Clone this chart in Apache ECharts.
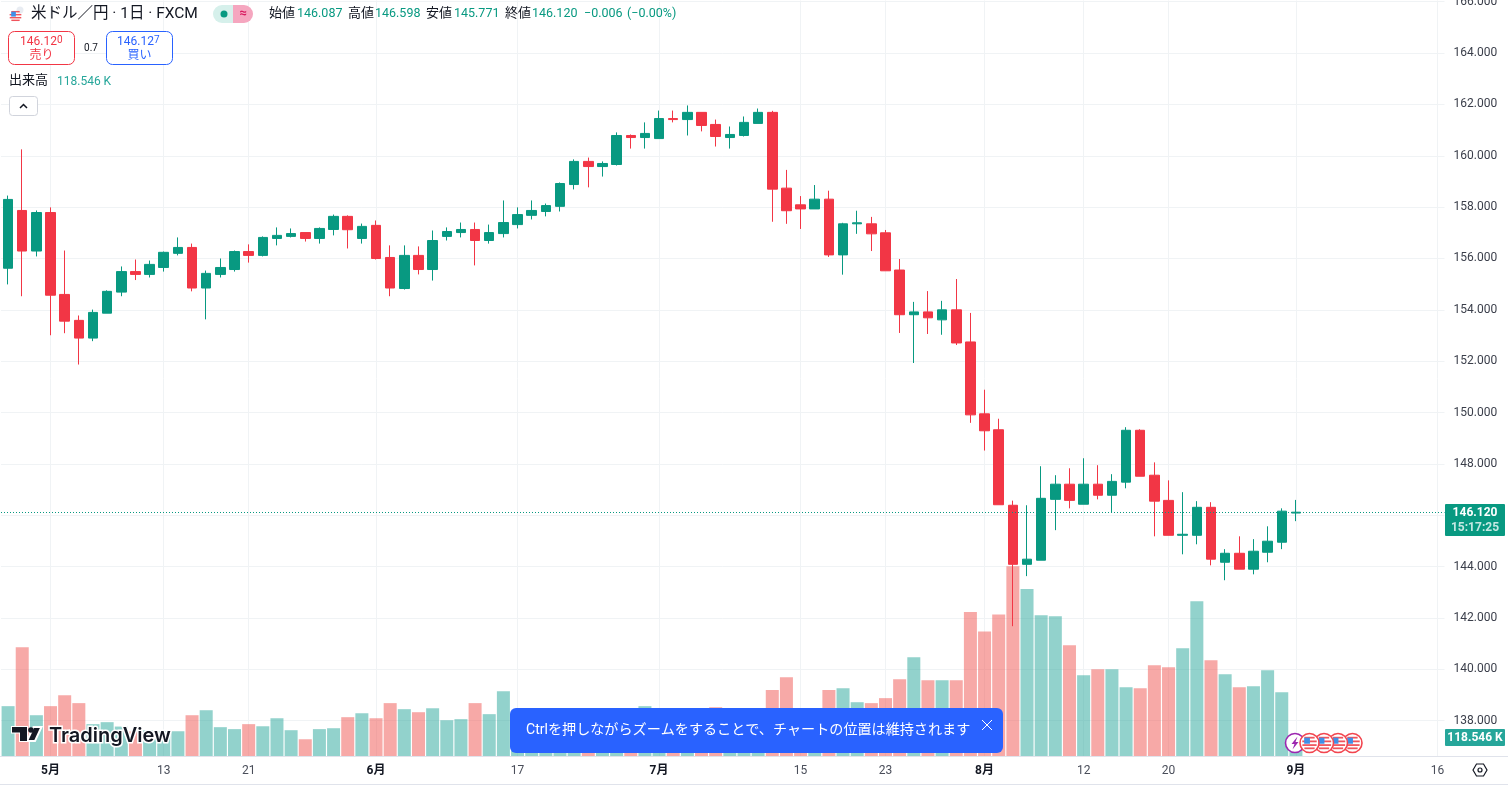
<!DOCTYPE html>
<html lang="ja">
<head>
<meta charset="utf-8">
<title>米ドル／円</title>
<script src="https://cdn.jsdelivr.net/npm/echarts@6/dist/echarts.min.js"></script>
<style>
  html, body { margin: 0; padding: 0; background: #fff; }
  #chart { width: 1508px; height: 788px; }
</style>
</head>
<body>
<div id="chart"></div>
<script>
// 日付 (営業日、最後の10本は未来の空き)
const categories = [
  '4/26','4/29','4/30','5/1','5/2','5/3','5/6','5/7','5/8','5/9','5/10','5/13','5/14','5/15','5/16','5/17','5/20','5/21','5/22','5/23','5/24','5/27','5/28','5/29','5/30','5/31',
  '6/3','6/4','6/5','6/6','6/7','6/10','6/11','6/12','6/13','6/14','6/17','6/18','6/19','6/20','6/21','6/24','6/25','6/26','6/27','6/28',
  '7/1','7/2','7/3','7/4','7/5','7/8','7/9','7/10','7/11','7/12','7/15','7/16','7/17','7/18','7/19','7/22','7/23','7/24','7/25','7/26','7/29','7/30','7/31',
  '8/1','8/2','8/5','8/6','8/7','8/8','8/9','8/12','8/13','8/14','8/15','8/16','8/19','8/20','8/21','8/22','8/23','8/26','8/27','8/28','8/29','8/30',
  '9/2','9/3','9/4','9/5','9/6','9/9','9/10','9/11','9/12','9/13','9/16'
];

// 四本値
const opens = [
  155.62,157.87,156.29,157.79,154.60,153.59,152.90,153.87,154.69,155.49,155.38,155.65,156.20,156.43,154.85,155.38,155.57,156.27,156.12,156.78,156.86,157.01,156.78,157.13,157.64,156.78,157.29,156.04,
  154.83,156.12,155.57,156.86,157.01,157.13,156.70,156.97,157.32,157.68,157.83,158.03,158.88,159.78,159.58,159.66,160.79,160.71,160.67,161.45,161.41,161.69,161.22,160.71,160.79,161.26,161.69,158.74,
  158.09,157.93,158.31,156.14,157.35,157.35,157.00,155.55,153.81,153.92,153.61,154.00,152.75,149.95,149.33,146.39,144.09,144.25,146.62,147.21,146.43,147.21,146.78,147.29,149.31,147.56,146.58,145.22,
  145.22,146.31,144.17,144.52,143.90,144.56,144.95,146.087
];
const closes = [
  158.30,156.29,157.79,154.57,153.56,152.90,153.90,154.72,155.49,155.38,155.77,156.24,156.43,154.85,155.42,155.65,156.27,156.12,156.82,156.90,156.97,156.78,157.17,157.64,157.12,157.25,156.00,154.85,
  156.12,155.57,156.70,157.05,157.13,156.70,157.01,157.40,157.71,157.87,158.06,158.92,159.78,159.58,159.70,160.79,160.71,160.87,161.45,161.41,161.69,161.18,160.75,160.83,161.30,161.69,158.70,157.86,
  157.93,158.31,156.14,157.35,157.39,156.96,155.52,153.81,153.92,153.69,154.00,152.71,149.91,149.29,146.41,144.09,144.29,146.66,147.21,146.58,147.21,146.78,147.32,149.31,147.52,146.55,145.22,145.26,
  146.31,144.29,144.52,143.90,144.60,144.99,146.16,146.12
];
const lows = [
  154.99,154.53,156.08,153.01,153.09,151.87,152.78,153.87,154.53,155.16,155.26,155.49,156.12,154.72,153.63,155.26,155.49,155.84,156.08,156.51,156.82,156.66,156.58,156.90,156.39,156.58,155.96,154.53,
  154.79,155.38,155.14,156.70,156.82,155.73,156.58,156.82,157.17,157.52,157.64,157.83,158.69,158.77,159.19,159.62,160.28,160.28,160.67,161.30,160.79,160.95,160.36,160.28,160.75,161.26,157.43,157.35,
  157.15,157.93,156.06,155.37,156.96,156.29,155.52,153.10,151.93,153.06,153.03,152.63,149.60,148.52,146.41,141.68,143.63,144.25,145.42,146.27,146.43,146.62,146.10,147.05,147.52,145.18,145.22,144.48,
  144.87,144.05,143.47,143.90,143.70,144.17,144.68,145.771
];
const highs = [
  158.45,160.25,157.87,157.99,156.31,153.78,154.01,154.76,155.69,155.96,155.92,156.27,156.82,156.58,155.53,156.00,156.31,156.55,156.86,157.21,157.17,157.01,157.21,157.71,157.68,157.36,157.48,156.51,
  156.51,156.47,157.09,157.21,157.40,157.40,157.32,158.26,157.99,158.26,158.14,158.96,159.86,159.93,159.78,160.91,160.83,161.30,161.76,161.76,161.96,161.69,161.41,161.14,161.53,161.84,161.75,159.45,
  158.43,158.86,158.64,157.39,157.86,157.62,157.11,155.98,154.31,154.73,154.35,155.20,153.88,150.89,149.76,146.57,146.39,147.91,147.56,147.83,148.22,147.95,147.60,149.43,149.35,148.06,147.36,146.90,
  146.55,146.51,144.68,145.18,145.07,145.57,146.27,146.598
];

// 出来高 (K)
const volumes = [
  333,723,273,333,405,353,214,227,198,165,172,167,167,273,306,194,181,214,200,253,174,114,181,187,260,286,253,353,
  313,293,319,240,247,353,280,432,230,210,240,260,280,250,230,270,300,333,260,240,280,290,326,240,260,300,439,524,
  290,270,439,452,359,353,386,511,657,505,505,505,956,827,939,1259,1107,935,928,736,538,577,577,458,452,604,591,716,
  1027,637,544,458,465,571,425,118.546
];

const tickIndex = [3, 11, 17, 26, 36, 46, 56, 62, 69, 76, 82, 91, 101];
const tickText = ['5月', '13', '21', '6月', '17', '7月', '15', '23', '8月', '12', '20', '9月', '16'];

const UP = '#089981';
const DOWN = '#F23645';
const VOL_UP = 'rgba(38,166,154,0.5)';
const VOL_DOWN = 'rgba(239,83,80,0.5)';
const GRID = '#f0f3f5';
const TEXT = '#131722';
const BLUE = '#2962FF';
const FONT = 'Roboto, "Noto Sans CJK JP", sans-serif';

const candleData = opens.map((o, i) => [o, closes[i], lows[i], highs[i]]);
const volumeData = volumes.map((v, i) => ({
  value: v,
  itemStyle: { color: closes[i] >= opens[i] ? VOL_UP : VOL_DOWN }
}));
const lastClose = closes[closes.length - 1];

// 小さいテキスト
function label(text, x, y, fill, size, extra) {
  return {
    type: 'text', silent: true, z: 20,
    style: Object.assign({
      text, x, y, fill,
      font: `${size}px ${FONT}`,
      verticalAlign: 'middle'
    }, extra || {})
  };
}

function roundRect(x, y, w, h, r, fill, stroke) {
  return {
    type: 'rect', silent: true, z: 19,
    shape: { x, y, width: w, height: h, r },
    style: { fill, stroke: stroke || null, lineWidth: 1 }
  };
}

// 米国旗の丸アイコン
function flagIcon(cx, cy, r, ring, z) {
  const inner = ring ? r * 0.78 : r;
  const parts = [
    { type: 'circle', silent: true, z, shape: { cx, cy, r }, style: { fill: '#fff', stroke: ring ? '#f2454f' : null, lineWidth: 1.6 } }
  ];
  // 赤い縞
  [-0.72, -0.22, 0.28, 0.72].forEach((o) => {
    const half = Math.sqrt(Math.max(0, 1 - o * o)) * inner;
    parts.push({
      type: 'rect', silent: true, z: z + 1,
      shape: { x: cx - half, y: cy + o * inner - inner * 0.12, width: half * 2, height: inner * 0.24 },
      style: { fill: '#f0545c' }
    });
  });
  parts.push({
    type: 'rect', silent: true, z: z + 2,
    shape: { x: cx - inner * 0.72, y: cy - inner * 0.72, width: inner * 0.78, height: inner * 0.82 },
    style: { fill: '#3f8fe8' }
  });
  return parts;
}

const graphics = [
  // ペイン下の線
  { type: 'line', silent: true, z: 5, shape: { x1: 0, y1: 756.5, x2: 1508, y2: 756.5 }, style: { stroke: '#e0e3eb', lineWidth: 1 } },
  { type: 'line', silent: true, z: 5, shape: { x1: 0, y1: 784.5, x2: 1508, y2: 784.5 }, style: { stroke: '#e0e3eb', lineWidth: 1 } },

  // ヘッダー
  ...flagIcon(15.5, 16, 6, false, 20),
  { type: 'circle', silent: true, z: 20, shape: { cx: 20, cy: 10, r: 3.5 }, style: { fill: '#e8ecf2' } },
  label('米ドル／円 · 1日 · FXCM', 31, 14, TEXT, 15.5),
  roundRect(213, 5, 20, 18, [9, 0, 0, 9], '#d6f0eb'),
  roundRect(233, 5, 20, 18, [0, 9, 9, 0], '#f5a6bf'),
  { type: 'circle', silent: true, z: 20, shape: { cx: 224, cy: 14, r: 3.5 }, style: { fill: UP } },
  label('≈', 243, 14, '#d81b60', 13, { textAlign: 'center', font: `bold 13px ${FONT}` }),
  label('始値', 269, 14, TEXT, 13),
  label('146.087', 297, 14, UP, 12.5),
  label('高値', 348, 14, TEXT, 13),
  label('146.598', 375, 14, UP, 12.5),
  label('安値', 426, 14, TEXT, 13),
  label('145.771', 454, 14, UP, 12.5),
  label('終値', 505, 14, TEXT, 13),
  label('146.120', 532, 14, UP, 12.5),
  label('−0.006', 584, 14, UP, 12.5),
  label('(−0.00%)', 627, 14, UP, 12.5),

  // 売り買いボタン
  roundRect(8.5, 31.5, 66, 33, 6, '#fff', DOWN),
  label('146.12', 20, 42, DOWN, 12),
  label('0', 57, 40, DOWN, 10),
  label('売り', 41.5, 56, DOWN, 12, { textAlign: 'center' }),
  label('0.7', 91, 48, TEXT, 10, { textAlign: 'center' }),
  roundRect(106.5, 31.5, 66, 33, 6, '#fff', BLUE),
  label('146.12', 117, 42, BLUE, 12),
  label('7', 154, 40, BLUE, 10),
  label('買い', 139.5, 56, BLUE, 12, { textAlign: 'center' }),

  // 出来高
  label('出来高', 9, 81, TEXT, 13),
  label('118.546 K', 57, 82, '#26A69A', 12),
  roundRect(9.5, 96.5, 28, 19, 3, '#fff', '#d1d4dc'),
  { type: 'polyline', silent: true, z: 20, shape: { points: [[20, 108], [23.5, 104.5], [27, 108]] }, style: { stroke: TEXT, fill: null, lineWidth: 1.5 } },

  // 現在値のラベル
  roundRect(1445, 504, 60, 32, 1, UP),
  label('146.120', 1475, 512.5, '#fff', 12, { textAlign: 'center', font: `bold 12px ${FONT}` }),
  label('15:17:25', 1475, 527.5, '#c5e8e2', 12, { textAlign: 'center', font: `bold 12px ${FONT}` }),
  roundRect(1445, 729, 60, 17, 1, '#26A69A'),
  label('118.546 K', 1475, 738, '#fff', 12, { textAlign: 'center', font: `bold 12px ${FONT}` }),

  // TradingView ロゴ
  { type: 'polygon', silent: true, z: 20, shape: { points: [[12, 727], [27, 727], [27, 741], [20, 741], [20, 732.5], [12, 732.5]] }, style: { fill: '#131722', stroke: '#fff', lineWidth: 2 } },
  { type: 'polygon', silent: true, z: 20, shape: { points: [[33.5, 727], [41.5, 727], [35, 741], [27, 741]] }, style: { fill: '#131722', stroke: '#fff', lineWidth: 2 } },
  { type: 'polygon', silent: true, z: 21, shape: { points: [[12, 727], [27, 727], [27, 741], [20, 741], [20, 732.5], [12, 732.5]] }, style: { fill: '#131722' } },
  { type: 'circle', silent: true, z: 21, shape: { cx: 31, cy: 730, r: 2.8 }, style: { fill: '#131722' } },
  label('TradingView', 49, 736, '#131722', 20, { font: `600 20px Inter, ${FONT}`, stroke: '#fff', lineWidth: 3 }),

  // 通知
  roundRect(510, 708, 493, 45, 6, BLUE),
  label('Ctrlを押しながらズームをすることで、チャートの位置は維持されます', 526, 730, '#fff', 14.1),
  { type: 'line', silent: true, z: 20, shape: { x1: 982, y1: 720, x2: 992, y2: 730 }, style: { stroke: '#fff', lineWidth: 1 } },
  { type: 'line', silent: true, z: 20, shape: { x1: 992, y1: 720, x2: 982, y2: 730 }, style: { stroke: '#fff', lineWidth: 1 } },

  // イベントのアイコン
  { type: 'circle', silent: true, z: 21, shape: { cx: 1295, cy: 743, r: 9.5 }, style: { fill: '#fff', stroke: '#9c27b0', lineWidth: 1.6 } },
  { type: 'polygon', silent: true, z: 22, shape: { points: [[1297.5, 736.5], [1291.5, 744], [1294.5, 744], [1292.5, 749.5], [1298.5, 742], [1295.5, 742]] }, style: { fill: '#9c27b0' } },
  ...flagIcon(1352.5, 743, 9.5, true, 24),
  ...flagIcon(1338, 743, 9.5, true, 27),
  ...flagIcon(1324, 743, 9.5, true, 30),
  ...flagIcon(1309.5, 743, 9.5, true, 33),

  // 設定アイコン
  { type: 'polygon', silent: true, z: 20, shape: { points: [[1473, 770], [1476.5, 764], [1483.5, 764], [1487, 770], [1483.5, 776], [1476.5, 776]] }, style: { fill: null, stroke: TEXT, lineWidth: 1.2 } },
  { type: 'circle', silent: true, z: 20, shape: { cx: 1480, cy: 770, r: 2 }, style: { fill: null, stroke: TEXT, lineWidth: 1.2 } }
];

const chart = echarts.init(document.getElementById('chart'), null, { renderer: 'canvas' });

const option = {
  animation: false,
  backgroundColor: '#fff',
  textStyle: { fontFamily: FONT },
  grid: [
    { left: 1, width: 1443.5, top: 1.7, height: 719, outerBoundsMode: 'none' },
    { left: 1, width: 1443.5, top: 0.5, height: 756, outerBoundsMode: 'none' }
  ],
  xAxis: [
    { type: 'category', gridIndex: 0, data: categories, show: false },
    {
      type: 'category', gridIndex: 1, data: categories,
      axisLine: { show: false },
      axisTick: { show: false },
      splitLine: {
        show: true, alignWithLabel: true,
        interval: (i) => tickIndex.includes(i),
        lineStyle: { color: GRID, width: 1 }
      },
      axisLabel: {
        interval: (i) => tickIndex.includes(i),
        margin: 8,
        color: '#4a4e5a',
        fontSize: 12,
        formatter: (v, i) => {
          const text = tickText[tickIndex.indexOf(i)];
          return text && text.includes('月') ? `{m|${text}}` : text;
        },
        rich: { m: { color: TEXT, fontWeight: 'bold', fontSize: 12 } }
      }
    }
  ],
  yAxis: [
    {
      type: 'value', gridIndex: 0, position: 'right',
      min: 138, max: 166, interval: 2,
      axisLine: { show: false },
      axisTick: { show: false },
      splitLine: { show: true, lineStyle: { color: GRID, width: 1 } },
      axisLabel: {
        color: '#3a3e4a', fontSize: 12, margin: 9,
        showMinLabel: true, showMaxLabel: true,
        formatter: (v) => v.toFixed(3)
      }
    },
    {
      type: 'value', gridIndex: 1, position: 'right',
      min: 0, max: 5000, show: false, splitLine: { show: false }
    }
  ],
  series: [
    {
      name: '出来高', type: 'bar', xAxisIndex: 1, yAxisIndex: 1,
      data: volumeData, barWidth: 13, silent: true
    },
    {
      name: 'USDJPY', type: 'candlestick', xAxisIndex: 0, yAxisIndex: 0,
      data: candleData, barWidth: 10, silent: true,
      itemStyle: {
        color: UP, color0: DOWN,
        borderColor: UP, borderColor0: DOWN,
        borderWidth: 1
      },
      markLine: {
        silent: true, symbol: 'none', animation: false,
        label: { show: false },
        lineStyle: { color: UP, type: [1, 2], width: 1, opacity: 1 },
        data: [{ yAxis: lastClose, lineStyle: { color: UP, type: [1, 2], width: 1, opacity: 1 } }]
      }
    }
  ],
  graphic: graphics
};

chart.setOption(option);
</script>
</body>
</html>
